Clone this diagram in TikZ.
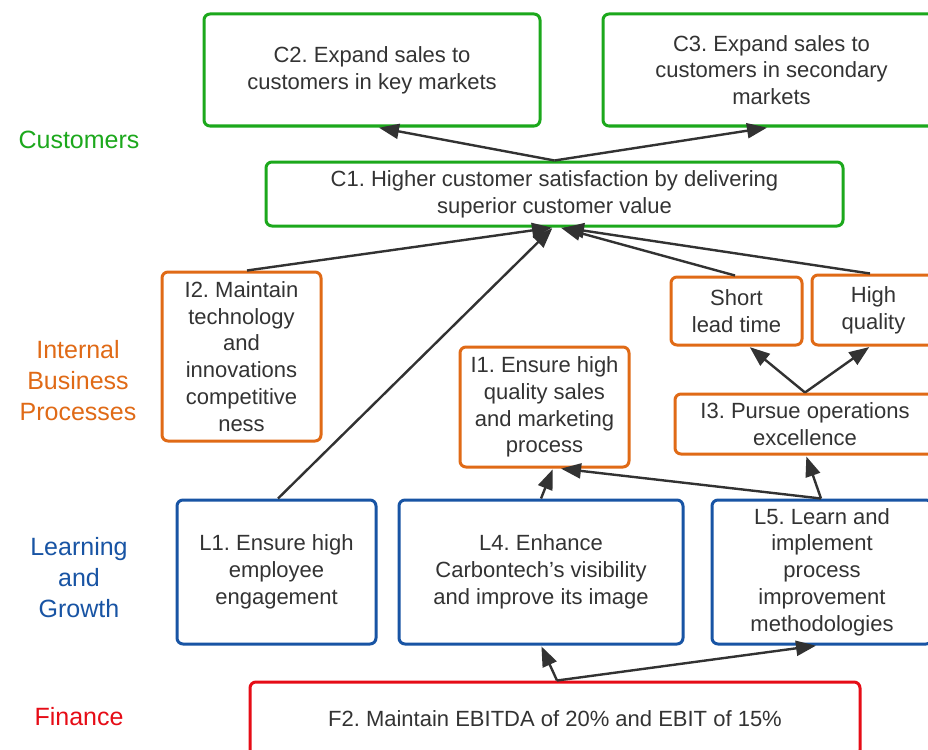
\documentclass[tikz,border=0pt]{standalone}
\usepackage{fontspec}
\setmainfont{Liberation Sans}
\usetikzlibrary{arrows.meta,calc}
\frenchspacing

\definecolor{kgreen}{RGB}{28,168,28}
\definecolor{korange}{RGB}{224,106,22}
\definecolor{kblue}{RGB}{24,84,164}
\definecolor{kred}{RGB}{230,12,22}
\definecolor{txt}{RGB}{51,51,51}
\definecolor{arr}{RGB}{50,50,50}

\begin{document}
\begin{tikzpicture}[x=1pt,y=-1pt,
  box/.style={draw, line width=3pt, rounded corners=6pt, fill=white,
    align=center, inner sep=0pt, text=txt,
    font=\fontsize{22}{26.8}\selectfont},
  cbox/.style={box, draw=kgreen},
  ibox/.style={box, draw=korange},
  lbox/.style={box, draw=kblue},
  fbox/.style={box, draw=kred},
  link/.style={draw=arr, line width=2.4pt, shorten >=1pt,
    -{Triangle[length=20pt,width=15pt]}},
  lane/.style={align=center, font=\fontsize{25}{31}\selectfont}]

\useasboundingbox (0,0) rectangle (928,749);
\fill[white] (0,0) rectangle (928,749);

% perspective labels
\node[lane, text=kgreen]  (lc) at (79,140) {Customers};
\node[lane, text=korange] (li) at (78,381) {Internal\\Business\\Processes};
\node[lane, text=kblue]   (ll) at (79,578) {Learning\\and\\Growth};
\node[lane, text=kred]    (lf) at (79,717) {Finance};

\begin{scope}
\clip (0,0) rectangle (928,749);

% customers
\node[cbox, minimum width=336pt, minimum height=112pt] (c2) at (372,70)
  {C2. Expand sales to\\customers in key markets};
\node[cbox, minimum width=337pt, minimum height=112pt] (c3) at (771.5,70)
  {C3. Expand sales to\\customers in secondary\\markets};
\node[cbox, minimum width=577pt, minimum height=64pt] (c1) at (554.5,194)
  {C1. Higher customer satisfaction by delivering\\superior customer value};

% internal business processes
\node[ibox, minimum width=159pt, minimum height=169pt] (i2) at (241.5,356.5)
  {I2. Maintain\\technology\\and\\innovations\\competitive\\ness};
\node[ibox, minimum width=131pt, minimum height=68pt] (slt) at (736.5,311)
  {Short\\lead time};
\node[ibox, minimum width=123pt, minimum height=70pt] (hq) at (873.5,310)
  {High\\quality};
\node[ibox, minimum width=169pt, minimum height=120pt] (i1) at (544.5,407)
  {I1. Ensure high\\quality sales\\and marketing\\process};
\node[ibox, minimum width=260pt, minimum height=60pt] (i3) at (805,424)
  {I3. Pursue operations\\excellence};

% learning and growth
\node[lbox, minimum width=199pt, minimum height=144pt] (l1) at (276.5,572)
  {L1. Ensure high\\employee\\engagement};
\node[lbox, minimum width=284pt, minimum height=144pt] (l4) at (541,572)
  {L4. Enhance\\Carbontech{\char"0027}s visibility\\and improve its image};
\node[lbox, minimum width=220pt, minimum height=144pt] (l5) at (822,572)
  {L5. Learn and\\implement\\process\\improvement\\methodologies};

% finance
\node[fbox, minimum width=610pt, minimum height=74pt] (f2) at (555,719)
  {F2. Maintain EBITDA of 20\% and EBIT of 15\%};

% cause-and-effect links
\draw[link] (c1.north) -- ([xshift=6pt]c2.south);
\draw[link] (c1.north) -- ([xshift=-3.5pt]c3.south);
\draw[link] ([xshift=5.5pt]i2.north) -- ([xshift=-1.5pt]c1.south);
\draw[link] ([xshift=1.5pt]l1.north) -- ([xshift=-1.5pt]c1.south);
\draw[link] ([xshift=-1.5pt]slt.north) -- ([xshift=5.5pt]c1.south);
\draw[link] ([xshift=-3.5pt]hq.north) -- ([xshift=8.5pt]c1.south);
\draw[link] (i3.north) -- ([xshift=12.5pt]slt.south);
\draw[link] (i3.north) -- ([xshift=-3.5pt]hq.south);
\draw[link] ([xshift=-1pt]l5.north) -- ([xshift=1pt]i3.south);
\draw[link] ([xshift=-1pt]l5.north) -- ([xshift=15.5pt]i1.south);
\draw[link] (l4.north) -- ([xshift=8.5pt]i1.south);
\draw[link] ([xshift=2pt]f2.north) -- (l4.south);
\draw[link] ([xshift=2pt]f2.north) -- ([xshift=-5pt]l5.south);
\end{scope}
\end{tikzpicture}
\end{document}
